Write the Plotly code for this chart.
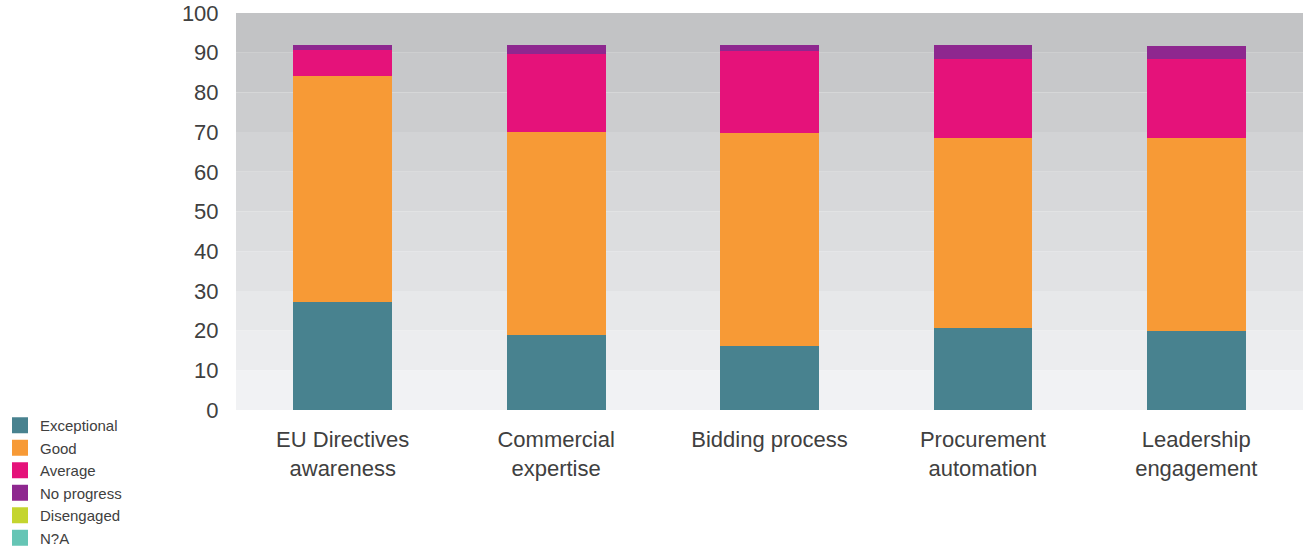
import plotly.graph_objects as go

categories = ["EU Directives<br>awareness", "Commercial<br>expertise", "Bidding process",
              "Procurement<br>automation", "Leadership<br>engagement"]
exceptional = [27.2, 18.9, 16.1, 20.7, 19.9]
good = [56.9, 51.1, 53.7, 47.8, 48.6]
average = [6.6, 19.7, 20.6, 19.9, 19.9]
no_progress = [1.2, 2.2, 1.5, 3.5, 3.3]
disengaged = [0, 0, 0, 0, 0]
na = [0, 0, 0, 0, 0]

series = [
    ("Exceptional", exceptional, "#48828f"),
    ("Good", good, "#f79a36"),
    ("Average", average, "#e5127a"),
    ("No progress", no_progress, "#8e278f"),
    ("Disengaged", disengaged, "#c4d52f"),
    ("N?A", na, "#66c5b5"),
]

FONT = "Liberation Sans"
TXT = "#404040"

fig = go.Figure()
for name, vals, col in series:
    fig.add_trace(go.Bar(x=categories, y=vals, name=name, showlegend=False,
                         marker=dict(color=col, line=dict(width=0))))
# legend entries with larger square swatches
for name, vals, col in series:
    fig.add_trace(go.Scatter(x=[None], y=[None], name=name, mode="markers",
                             marker=dict(symbol="square", size=16, color=col),
                             showlegend=True, hoverinfo="skip"))

# background bands, darker toward the top
shapes = []
lo = (241, 242, 244)
hi = (194, 195, 197)
for i in range(10):
    t = i / 9
    c = tuple(round(lo[k] + (hi[k] - lo[k]) * t) for k in range(3))
    shapes.append(dict(type="rect", xref="paper", yref="y", x0=0, x1=1,
                       y0=i * 10, y1=(i + 1) * 10, fillcolor="rgb(%d,%d,%d)" % c,
                       line=dict(width=0), layer="below"))

fig.update_layout(
    width=1303, height=549,
    barmode="stack",
    bargap=0.537,
    paper_bgcolor="white",
    plot_bgcolor="white",
    margin=dict(l=236, r=0, t=13, b=139, autoexpand=False),
    font=dict(family=FONT, color=TXT),
    shapes=shapes,
    legend=dict(
        xref="container", yref="container",
        x=0, y=0.255, xanchor="left", yanchor="top",
        font=dict(size=15, family=FONT, color=TXT),
        traceorder="normal",
        itemclick=False,
        itemsizing="trace",
        itemwidth=30,
        bgcolor="rgba(0,0,0,0)",
        tracegroupgap=0,
    ),
    showlegend=True,
)
fig.update_yaxes(range=[0, 100], tickvals=list(range(0, 101, 10)),
                 showgrid=False, zeroline=False, showline=False,
                 ticks="outside", ticklen=12, tickcolor="rgba(0,0,0,0)",
                 tickfont=dict(size=22, family=FONT, color=TXT))
fig.update_xaxes(range=[-0.5, 4.5], showgrid=False, zeroline=False, showline=False,
                 ticks="outside", ticklen=10, tickcolor="rgba(0,0,0,0)",
                 tickfont=dict(size=22, family=FONT, color=TXT))

fig.write_html("out.html")
